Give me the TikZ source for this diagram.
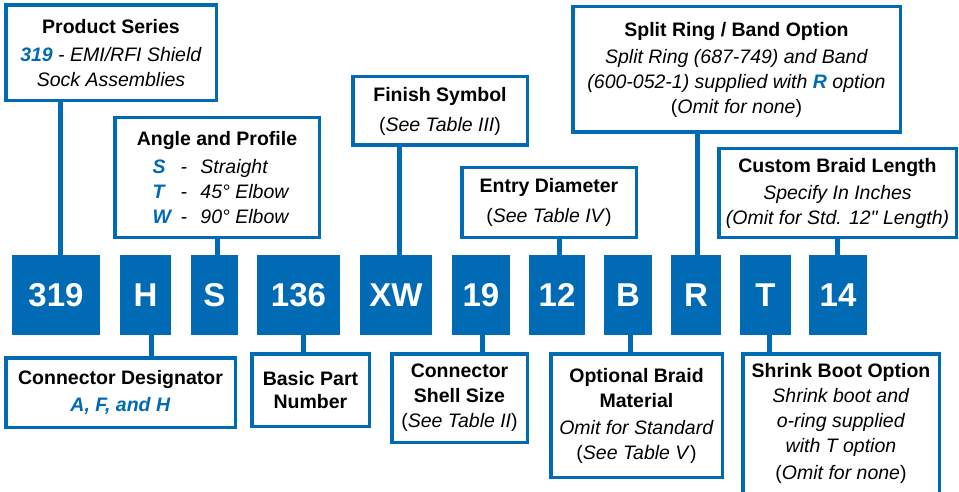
\documentclass[tikz,border=0pt]{standalone}
\usepackage{fontspec}
\setmainfont{Liberation Sans}
\usepackage{tikz}
\usetikzlibrary{calc}

\definecolor{pnblue}{RGB}{0,106,181}
\newcommand{\blu}[1]{\textcolor{pnblue}{\textbf{\textit{#1}}}}
\newcommand{\opt}[2]{\hspace*{11pt}\makebox[28pt][l]{\blu{#1}}\makebox[20pt][l]{\textit{-}}\makebox[92pt][l]{\textit{#2}}}

\begin{document}
\begin{tikzpicture}[x=1pt, y=-1pt,
    code/.style={fill=pnblue, text=white, minimum height=80pt, inner sep=0pt,
        font=\fontsize{33}{36}\selectfont\bfseries},
    info/.style={draw=pnblue, line width=3.5pt, fill=white, align=center, inner sep=0pt,
        font=\fontsize{19.5}{25}\selectfont},
    link/.style={draw=pnblue, line width=5pt}]
    \fill[white] (0,0) rectangle (959,492);
    \useasboundingbox (0,0) rectangle (959,492);

    \foreach \n/\x/\w in {319/56/88, H/145.5/51, S/214.5/47, 136/298.5/83, XW/396/72,
        19/481/58, 12/557/56, B/628/48, R/696/50, T/765.5/51, 14/838/58}
    \node[code, minimum width=\w] (c\n) at (\x,295) {\n};

    \node[info, minimum width=210.5, minimum height=95.5] (ps) at (111,53)
        {\textbf{Product Series}\\[3pt] \textit{\blu{319} - EMI/RFI Shield}\\ \textit{Sock Assemblies}};
    \node[info, minimum width=204.5, minimum height=119.5] (ap) at (217,177.5)
        {\textbf{Angle and Profile}\\[3pt] \opt{S}{Straight}\\ \opt{T}{45° Elbow}\\ \opt{W}{90° Elbow}};
    \node[info, minimum width=174.5, minimum height=68.5] (fs) at (440,111)
        {\textbf{Finish Symbol}\\[5pt] (\textit{See Table III})};
    \node[info, minimum width=174.5, minimum height=69.5] (ed) at (549,202.5)
        {\textbf{Entry Diameter}\\[5pt] (\textit{See Table IV})};
    \node[info, minimum width=327.5, minimum height=125.5] (sr) at (736.5,69.5)
        {\textbf{Split Ring / Band Option}\\[2pt] \textit{Split Ring (687-749) and Band}\\
         \textit{(600-052-1) supplied with \blu{R} option}\\ (\textit{Omit for none})};
    \node[info, minimum width=237.5, minimum height=88.5] (cb) at (837.5,193)
        {\textbf{Custom Braid Length}\\[2pt] \textit{Specify In Inches}\\ \textit{(Omit for Std. 12\textquotedbl{} Length)}};

    \node[info, minimum width=229.5, minimum height=69.5] (cd) at (120.5,392.5)
        {\textbf{Connector Designator}\\[2pt] \blu{A, F, and H}};
    \node[info, minimum width=117.5, minimum height=72.5] (bp) at (310.5,390)
        {\textbf{Basic Part}\\[-2pt] \textbf{Number}};
    \node[info, minimum width=135.5, minimum height=88.5] (cs) at (459.5,398)
        {\textbf{Connector}\\ \textbf{Shell Size}\\ (\textit{See Table II})};
    \node[info, minimum width=171.5, minimum height=123.5] (ob) at (636.5,415.5)
        {\textbf{Optional Braid}\\ \textbf{Material}\\[2pt] \textit{Omit for Standard}\\ (\textit{See Table V})};
    \node[info, minimum width=196.5, minimum height=139.5] (sb) at (841,423.5)
        {\textbf{Shrink Boot Option}\\ \textit{Shrink boot and}\\ \textit{o-ring supplied}\\
         \textit{with T option}\\[2pt] (\textit{Omit for none})};

    \foreach \a/\b/\d in {c319/ps/4, cS/ap/2.5, cXW/fs/3, c12/ed/2, cR/sr/1, c14/cb/-1}
    \draw[link] ([xshift=\d]\a.north) -- ([xshift=\d]\a.north |- \b.south);
    \foreach \a/\b/\d in {cH/cd/5.5, c136/bp/4.5, c19/cs/1, cB/ob/2, cT/sb/3.5}
    \draw[link] ([xshift=\d]\a.south) -- ([xshift=\d]\a.south |- \b.north);
\end{tikzpicture}
\end{document}
